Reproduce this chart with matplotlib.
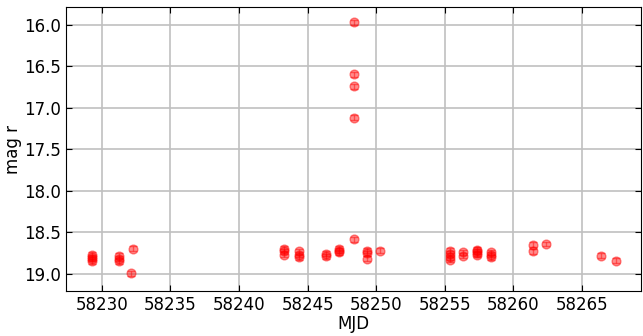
import matplotlib
matplotlib.use("Agg")
import matplotlib.pyplot as plt
import numpy as np

# r-band photometry
mjd = [58229.3, 58229.3, 58229.3, 58229.3,
       58231.25, 58231.25, 58231.25,
       58232.3, 58232.15,
       58243.3, 58243.3, 58243.3,
       58244.35, 58244.35, 58244.35,
       58246.3, 58246.3,
       58247.3, 58247.3, 58247.3,
       58248.35, 58248.35, 58248.35, 58248.35, 58248.35,
       58249.3, 58249.3, 58249.3,
       58250.3,
       58255.35, 58255.35, 58255.35, 58255.35,
       58256.35, 58256.35,
       58257.35, 58257.35, 58257.35, 58257.35,
       58258.35, 58258.35, 58258.35,
       58261.4, 58261.4,
       58262.4,
       58266.35,
       58267.45]
mag = [18.77, 18.80, 18.82, 18.85,
       18.78, 18.82, 18.85,
       18.70, 18.99,
       18.70, 18.73, 18.77,
       18.73, 18.77, 18.80,
       18.76, 18.79,
       18.70, 18.72, 18.74,
       15.97, 16.60, 16.74, 17.12, 18.58,
       18.72, 18.75, 18.82,
       18.72,
       18.72, 18.76, 18.80, 18.83,
       18.74, 18.78,
       18.71, 18.73, 18.75, 18.77,
       18.74, 18.77, 18.80,
       18.65, 18.73,
       18.64,
       18.78,
       18.84]
mag_err = [0.03] * len(mag)

fig, ax = plt.subplots(figsize=(6.43, 3.36), dpi=100)

ax.errorbar(mjd, mag, yerr=mag_err, fmt='o', color='red', alpha=0.45,
            ms=6.3, capsize=3, elinewidth=1)

ax.set_xlim(58227.4, 58269.3)
ax.set_ylim(19.205, 15.79)
ax.set_xticks(np.arange(58230, 58266, 5))
ax.set_yticks(np.arange(16.0, 19.01, 0.5))

ax.grid(True, color='#c0c0c0', lw=1.2)
ax.tick_params(direction='in', top=True, right=True, labelsize=12, length=4)
ax.set_xlabel("MJD", fontsize=12, labelpad=1)
ax.set_ylabel("mag r", fontsize=12, labelpad=2)

fig.subplots_adjust(left=0.103, right=0.997, top=0.979, bottom=0.134)
fig.savefig("out.png", dpi=100)
